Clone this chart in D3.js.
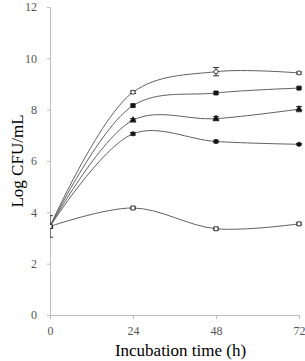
<!DOCTYPE html>
<html>
<head>
<meta charset="utf-8">
<script src="https://cdn.jsdelivr.net/npm/d3@7"></script>
<style>
  body { margin: 0; background: #fff; }
  svg { display: block; }
</style>
</head>
<body>
<div id="container"></div>
<script>
const hours = [0, 24, 48, 72]
const yTicks = [0, 2, 4, 6, 8, 10, 12]

// Log CFU/mL per series
const seriesOpenCircle = [3.45, 8.68, 9.48, 9.43]
const seriesFilledSquare = [3.45, 8.16, 8.65, 8.84]
const seriesTriangle = [3.45, 7.59, 7.65, 8.02]
const seriesFilledCircle = [3.45, 7.06, 6.76, 6.65]
const seriesOpenSquare = [3.45, 4.17, 3.36, 3.55]

// standard deviations
const errOpenCircle = [0.42, 0.05, 0.16, 0.04]
const errFilledSquare = [0, 0.05, 0.05, 0.04]
const errTriangle = [0, 0.06, 0.08, 0.1]
const errFilledCircle = [0, 0.05, 0.05, 0.03]
const errOpenSquare = [0, 0.04, 0.04, 0.04]

const width = 305, height = 361
const margin = { left: 50, top: 7, right: 6, bottom: 46 }
const lineColor = "#606060"
const axisColor = "#bdbdbd"

const svg = d3.select("#container").append("svg")
    .attr("width", width).attr("height", height)

const x = d3.scaleLinear().domain([0, 72]).range([margin.left, width - margin.right])
const y = d3.scaleLinear().domain([0, 12]).range([height - margin.bottom, margin.top])

// axes
const xAxis = svg.append("g")
    .attr("transform", "translate(0," + y(0) + ")")
    .call(d3.axisBottom(x).tickValues(hours).tickSize(4).tickSizeOuter(0).tickPadding(7))
const yAxis = svg.append("g")
    .attr("transform", "translate(" + x(0) + ",0)")
    .call(d3.axisLeft(y).tickValues(yTicks).tickSize(3).tickSizeOuter(0).tickPadding(10))

;[xAxis, yAxis].forEach(g => {
    g.select(".domain").attr("stroke", axisColor)
    g.selectAll(".tick line").attr("stroke", axisColor)
    g.selectAll(".tick text")
        .attr("fill", "#555")
        .style("font-family", "'Liberation Serif', 'Times New Roman', serif")
        .style("font-size", "12px")
})

svg.append("text")
    .attr("x", (x(0) + x(72)) / 2 + 6)
    .attr("y", 356)
    .attr("text-anchor", "middle")
    .style("font-family", "'Liberation Serif', 'Times New Roman', serif")
    .style("font-size", "17px")
    .text("Incubation time (h)")

svg.append("text")
    .attr("transform", "translate(23," + 161 + ") rotate(-90)")
    .attr("text-anchor", "middle")
    .style("font-family", "'Liberation Serif', 'Times New Roman', serif")
    .style("font-size", "17px")
    .text("Log CFU/mL")

svg.append("clipPath").attr("id", "plot")
    .append("rect")
    .attr("x", x(0)).attr("y", 0)
    .attr("width", width - x(0)).attr("height", y(0))

const plot = svg.append("g").attr("clip-path", "url(#plot)")

const series = [
    { values: seriesOpenCircle, errs: errOpenCircle, shape: "circle", fill: "#fff" },
    { values: seriesFilledSquare, errs: errFilledSquare, shape: "square", fill: "#111" },
    { values: seriesTriangle, errs: errTriangle, shape: "triangle", fill: "#111" },
    { values: seriesFilledCircle, errs: errFilledCircle, shape: "circle", fill: "#111" },
    { values: seriesOpenSquare, errs: errOpenSquare, shape: "square", fill: "#fff" }
]

const line = d3.line()
    .x((d, i) => x(hours[i]))
    .y(d => y(d))
    .curve(d3.curveCatmullRom.alpha(0.5))

series.forEach(s => {
    plot.append("path")
        .attr("d", line(s.values))
        .attr("fill", "none")
        .attr("stroke", lineColor)
        .attr("stroke-width", 1)
})

// error bars
series.forEach(s => {
    s.values.forEach((v, i) => {
        const e = s.errs[i]
        if (!e) return
        const cx = x(hours[i])
        const g = plot.append("g").attr("stroke", "#333").attr("stroke-width", 1)
        g.append("line").attr("x1", cx).attr("x2", cx).attr("y1", y(v + e)).attr("y2", y(v - e))
        g.append("line").attr("x1", cx - 3).attr("x2", cx + 3).attr("y1", y(v + e)).attr("y2", y(v + e))
        g.append("line").attr("x1", cx - 3).attr("x2", cx + 3).attr("y1", y(v - e)).attr("y2", y(v - e))
    })
})

// markers
series.forEach(s => {
    const sym = s.shape === "circle" ? d3.symbolCircle : s.shape === "square" ? d3.symbolSquare : d3.symbolTriangle
    const size = s.shape === "circle" ? 14 : 16
    plot.selectAll(null)
        .data(s.values)
        .enter().append("path")
        .attr("d", d3.symbol().type(sym).size(size))
        .attr("transform", (d, i) => "translate(" + x(hours[i]) + "," + y(d) + ")")
        .attr("fill", s.fill)
        .attr("stroke", "#222")
        .attr("stroke-width", 0.9)
})
</script>
</body>
</html>
